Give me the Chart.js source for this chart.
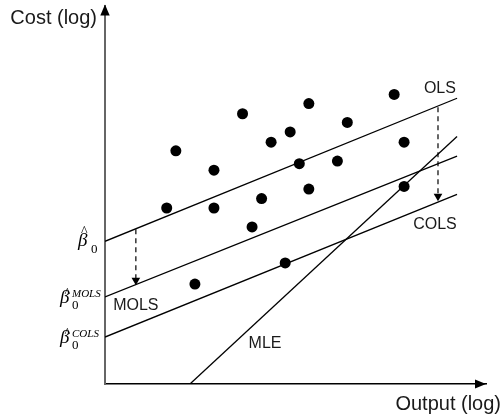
<!DOCTYPE html>
<html>
<head>
<meta charset="utf-8">
<script src="https://cdn.jsdelivr.net/npm/chart.js"></script>
<style>
  html, body { margin: 0; padding: 0; background: #fff; }
  canvas { display: block; }
</style>
</head>
<body>
<canvas id="frontier" width="503" height="415"></canvas>
<script>
var firmX = [75.9, 53.5, 36.1, 63.6, 48.6, 43.6, 78.5, 18.6, 28.6, 51.0, 61.0, 16.2, 28.6, 41.1, 53.5, 78.5, 38.6, 47.3, 23.6];
var firmY = [76.5, 74.1, 71.4, 69.1, 66.6, 63.9, 63.9, 61.6, 56.5, 58.2, 58.9, 46.5, 46.5, 49.0, 51.5, 52.2, 41.5, 32.0, 26.4];

// fitted lines, start and end points
var lineNames = ['OLS', 'MOLS', 'COLS', 'MLE'];
var lineX0 = [0, 0, 0, 22.3];
var lineY0 = [37.7, 23.0, 12.4, 0];
var lineX1 = [92.4, 92.4, 92.4, 92.4];
var lineY1 = [75.5, 60.2, 50.1, 65.4];

// where each line name sits
var labelX = [87.9, 8.1, 86.6, 42.0];
var labelY = [78.1, 20.6, 42.0, 10.6];

// dashed shifts OLS -> MOLS and OLS -> COLS
var shiftX = [8.1, 87.4];
var shiftFrom = [40.9, 73.1];
var shiftTo = [27.4, 49.6];

// intercept labels on the cost axis
var interceptSup = ['', 'MOLS', 'COLS'];

var datasets = [{
  label: 'firms',
  data: firmX.map(function (x, i) { return {x: x, y: firmY[i]} }),
  pointRadius: 5.5,
  pointBorderWidth: 0,
  pointBackgroundColor: '#000',
  showLine: false
}];

lineNames.forEach(function (name, i) {
  datasets.push({
    label: name,
    data: [{x: lineX0[i], y: lineY0[i]}, {x: lineX1[i], y: lineY1[i]}],
    showLine: true,
    borderColor: '#000',
    borderWidth: 1.3,
    pointRadius: 0
  })
});

shiftX.forEach(function (x, i) {
  datasets.push({
    label: 'shift' + i,
    data: [{x: x, y: shiftFrom[i]}, {x: x, y: shiftTo[i]}],
    showLine: true,
    borderColor: '#000',
    borderWidth: 1.2,
    borderDash: [5, 4],
    pointStyle: 'triangle',
    pointRotation: 180,
    pointRadius: [0, 5],
    pointBorderWidth: 0,
    pointBackgroundColor: '#000'
  })
});

function drawBeta(ctx, yPix, sup) {
  ctx.fillStyle = '#000';
  ctx.textAlign = 'left';
  ctx.textBaseline = 'alphabetic';
  if (!sup) {
    ctx.font = 'italic 19px "Liberation Serif", "Times New Roman", serif';
    ctx.fillText('\u03b2', 78, yPix + 5);
    ctx.font = '14px "Liberation Serif", serif';
    ctx.fillText('^', 81, yPix - 5);
    ctx.font = '13px "Liberation Serif", serif';
    ctx.fillText('0', 91, yPix + 12);
  } else {
    ctx.font = 'italic 19px "Liberation Serif", "Times New Roman", serif';
    ctx.fillText('\u03b2', 60, yPix + 6);
    ctx.font = '12px "Liberation Serif", serif';
    ctx.fillText('^', 64.5, yPix - 1);
    ctx.font = 'italic 11px "Liberation Serif", serif';
    ctx.fillText(sup, 72, yPix);
    ctx.font = '13px "Liberation Serif", serif';
    ctx.fillText('0', 72, yPix + 12);
  }
}

var decorations = {
  id: 'decorations',
  afterDraw: function (chart) {
    var ctx = chart.ctx
    var a = chart.chartArea
    var xs = chart.scales.x
    var ys = chart.scales.y
    ctx.save();

    // axis arrow heads
    ctx.fillStyle = '#000';
    ctx.beginPath();
    ctx.moveTo(a.left, a.top - 1);
    ctx.lineTo(a.left - 4.7, a.top + 10);
    ctx.lineTo(a.left + 4.7, a.top + 10);
    ctx.closePath();
    ctx.fill();
    ctx.beginPath();
    ctx.moveTo(a.right, a.bottom);
    ctx.lineTo(a.right - 11, a.bottom - 4.5);
    ctx.lineTo(a.right - 11, a.bottom + 4.5);
    ctx.closePath();
    ctx.fill();

    // axis titles
    ctx.fillStyle = '#1a1a1a';
    ctx.font = '20px "Liberation Sans", Arial, sans-serif';
    ctx.textBaseline = 'middle';
    ctx.textAlign = 'right';
    ctx.fillText('Cost (log)', a.left - 8, a.top + 13);
    ctx.fillText('Output (log)', 501, a.bottom + 20);

    // line names
    ctx.font = '16px "Liberation Sans", Arial, sans-serif';
    ctx.textAlign = 'center';
    lineNames.forEach(function (name, i) {
      ctx.fillText(name, xs.getPixelForValue(labelX[i]), ys.getPixelForValue(labelY[i]));
    });

    // intercepts
    interceptSup.forEach(function (sup, i) {
      drawBeta(ctx, ys.getPixelForValue(lineY0[i]), sup);
    });
    ctx.restore();
  }
};

new Chart(document.getElementById('frontier').getContext('2d'), {
  type: 'scatter',
  data: {datasets: datasets},
  options: {
    responsive: false,
    animation: false,
    devicePixelRatio: 1,
    layout: {padding: {left: 105, top: 5, right: 17, bottom: 31}},
    plugins: {
      legend: {display: false},
      tooltip: {enabled: false}
    },
    scales: {
      x: {
        type: 'linear', min: 0, max: 100,
        ticks: {display: false},
        grid: {display: false, drawTicks: false},
        border: {display: true, color: '#000', width: 1.5}
      },
      y: {
        type: 'linear', min: 0, max: 100,
        ticks: {display: false},
        grid: {display: false, drawTicks: false},
        border: {display: true, color: '#666', width: 2}
      }
    }
  },
  plugins: [decorations]
});
</script>
</body>
</html>
